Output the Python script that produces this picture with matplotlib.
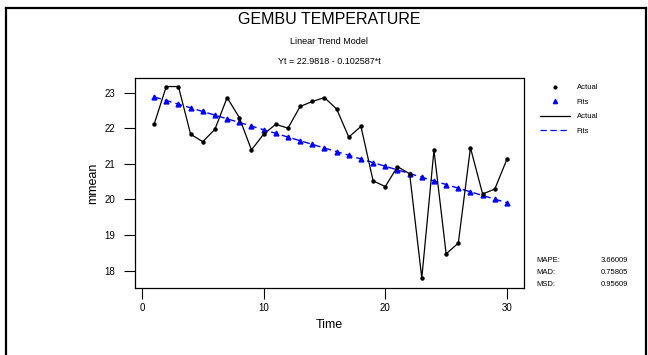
import matplotlib.pyplot as plt
from matplotlib.lines import Line2D

plt.rcParams['font.family'] = ['Liberation Sans Narrow', 'Liberation Sans', 'DejaVu Sans']

# series data
time = list(range(1, 31))
actual = [22.11, 23.17, 23.17, 21.83, 21.62, 21.97, 22.86, 22.30, 21.39, 21.83,
          22.11, 22.00, 22.61, 22.75, 22.86, 22.54, 21.75, 22.05, 20.52, 20.36,
          20.92, 20.72, 17.79, 21.38, 18.47, 18.77, 21.45, 20.15, 20.29, 21.13]

# linear trend model
intercept = 22.9818
slope = -0.102587
fits = [intercept + slope * t for t in time]

stat_names = ['MAPE:', 'MAD:', 'MSD:']
stat_values = ['3.66009', '0.75805', '0.95609']

fig = plt.figure(figsize=(6.48, 3.55), dpi=100)
ax = fig.add_axes([135 / 648, 1 - 288 / 355, (524 - 135) / 648, (288 - 78) / 355])

ax.plot(time, fits, color='blue', linestyle=(0, (5, 3)), linewidth=1.0,
        marker='^', markersize=3.5, markerfacecolor='blue', markeredgecolor='blue')
ax.plot(time, actual, color='black', linewidth=0.9, marker='o', markersize=2.2)

ax.set_xlim(-0.57, 31.4)
ax.set_ylim(17.51, 23.41)
ax.set_xticks([0, 10, 20, 30])
ax.set_yticks([18, 19, 20, 21, 22, 23])
ax.tick_params(direction='out', length=8, width=0.8, labelsize=7, pad=3)
ax.tick_params(axis='y', pad=6)
for s in ax.spines.values():
    s.set_linewidth(0.9)
ax.set_xlabel('Time', fontsize=9, labelpad=4)
ax.set_ylabel('mmean', fontsize=9, labelpad=4)

# titles
cx = 329 / 648
fig.text(cx, 1 - 20 / 355, 'GEMBU TEMPERATURE', ha='center', va='center', fontsize=11.5)
fig.text(cx, 1 - 41 / 355, 'Linear Trend Model', ha='center', va='center', fontsize=6.5)
fig.text(cx, 1 - 62 / 355, 'Yt = 22.9818 - 0.102587*t', ha='center', va='center', fontsize=6.5)

# legend
handles = [
    Line2D([], [], linestyle='none', marker='o', markersize=2, color='black'),
    Line2D([], [], linestyle='none', marker='^', markersize=3, color='blue'),
    Line2D([], [], color='black', linewidth=0.9),
    Line2D([], [], color='blue', linewidth=0.9, linestyle=(0, (5, 3))),
]
fig.legend(handles, ['Actual', 'Fits', 'Actual', 'Fits'], loc='upper left',
           bbox_to_anchor=(533 / 648, 1 - 77 / 355), frameon=False, fontsize=5.5,
           handlelength=4, handletextpad=0.8, labelspacing=0.95)

# accuracy measures
for i, (name, val) in enumerate(zip(stat_names, stat_values)):
    y = 1 - (261 + 11.5 * i) / 355
    fig.text(536 / 648, y, name, ha='left', va='center', fontsize=5.5)
    fig.text(628 / 648, y, val, ha='right', va='center', fontsize=5.5)

# outer frame
frame = [([6 / 648, 6 / 648], [0, 1 - 8 / 355]),
         ([6 / 648, 646 / 648], [1 - 8 / 355, 1 - 8 / 355]),
         ([646 / 648, 646 / 648], [1 - 8 / 355, 0])]
for xs, ys in frame:
    fig.add_artist(Line2D(xs, ys, color='black', linewidth=1.6, transform=fig.transFigure))

fig.savefig('out.png', dpi=100)
